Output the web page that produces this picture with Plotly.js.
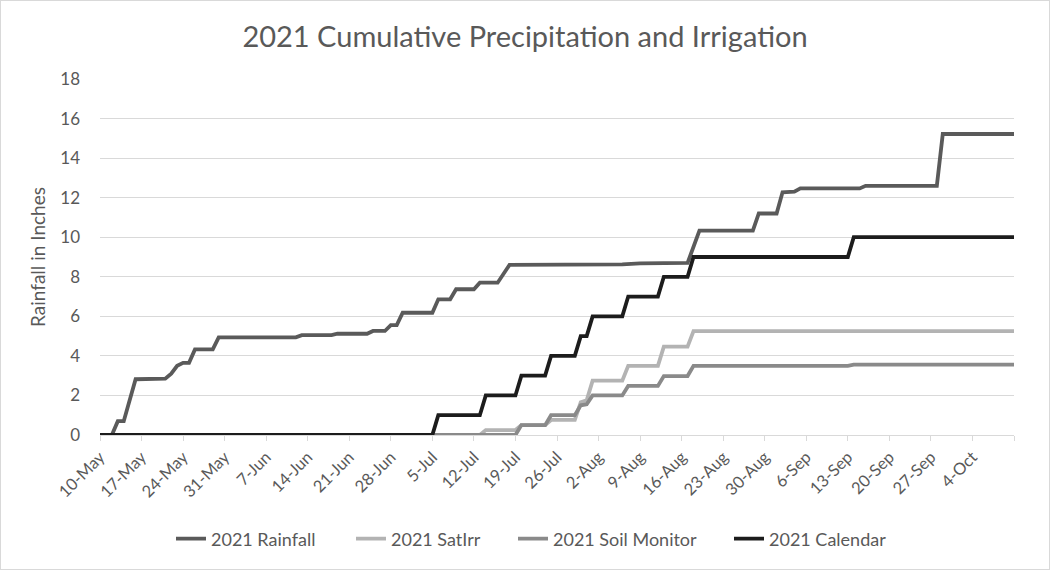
<!DOCTYPE html>
<html>
<head>
<meta charset="utf-8">
<script src="https://cdn.plot.ly/plotly-3.0.1.min.js"></script>
<style>
  html, body { margin: 0; padding: 0; background: #fff; }
  #wrap { position: relative; width: 1050px; height: 570px; }
  #chart { width: 1050px; height: 570px; }
  #frame { position: absolute; left: 0; top: 0; width: 1048px; height: 568px; border: 1px solid #d9d9d9; pointer-events: none; }
</style>
</head>
<body>
<div id="wrap"><div id="chart"></div><div id="frame"></div></div>
<script>
// ---- Data ----
const rainDates = ['2021-05-10','2021-05-12','2021-05-13','2021-05-14','2021-05-16','2021-05-21','2021-05-22','2021-05-23','2021-05-24','2021-05-25','2021-05-26','2021-05-29','2021-05-30','2021-06-12','2021-06-13','2021-06-18','2021-06-19','2021-06-24','2021-06-25','2021-06-27','2021-06-28','2021-06-29','2021-06-30','2021-07-05','2021-07-06','2021-07-08','2021-07-09','2021-07-12','2021-07-13','2021-07-16','2021-07-18','2021-08-04','2021-08-06','2021-08-09','2021-08-17','2021-08-19','2021-08-28','2021-08-29','2021-09-01','2021-09-02','2021-09-04','2021-09-05','2021-09-15','2021-09-16','2021-09-28','2021-09-29','2021-10-11'];
const rainValues = [0,0,0.7,0.7,2.82,2.85,3.1,3.5,3.65,3.65,4.33,4.33,4.94,4.94,5.05,5.05,5.12,5.12,5.26,5.26,5.56,5.56,6.18,6.18,6.86,6.86,7.37,7.37,7.7,7.7,8.6,8.6,8.63,8.68,8.7,10.33,10.33,11.2,11.2,12.27,12.3,12.47,12.47,12.6,12.6,15.22,15.22];

const satDates = ['2021-07-05','2021-07-13','2021-07-14','2021-07-19','2021-07-20','2021-07-24','2021-07-25','2021-07-29','2021-07-30','2021-07-31','2021-08-01','2021-08-06','2021-08-07','2021-08-12','2021-08-13','2021-08-17','2021-08-18','2021-10-11'];
const satValues = [0,0,0.25,0.25,0.5,0.5,0.76,0.76,1.65,1.75,2.75,2.75,3.5,3.5,4.47,4.47,5.25,5.25];

const soilDates = ['2021-07-05','2021-07-19','2021-07-20','2021-07-24','2021-07-25','2021-07-29','2021-07-30','2021-07-31','2021-08-01','2021-08-06','2021-08-07','2021-08-12','2021-08-13','2021-08-17','2021-08-18','2021-09-13','2021-09-14','2021-10-11'];
const soilValues = [0,0,0.5,0.5,1.0,1.0,1.5,1.55,2.0,2.0,2.48,2.48,2.98,2.98,3.5,3.5,3.56,3.56];

const calDates = ['2021-05-10','2021-07-05','2021-07-06','2021-07-13','2021-07-14','2021-07-19','2021-07-20','2021-07-24','2021-07-25','2021-07-29','2021-07-30','2021-07-31','2021-08-01','2021-08-06','2021-08-07','2021-08-12','2021-08-13','2021-08-17','2021-08-18','2021-09-13','2021-09-14','2021-10-11'];
const calValues = [0,0,1,1,2,2,3,3,4,4,5,5,6,6,7,7,8,8,9,9,10,10];

const seriesNames = ['2021 Rainfall','2021 SatIrr','2021 Soil Monitor','2021 Calendar'];

const tickDates = ['2021-05-10','2021-05-17','2021-05-24','2021-05-31','2021-06-07','2021-06-14','2021-06-21','2021-06-28','2021-07-05','2021-07-12','2021-07-19','2021-07-26','2021-08-02','2021-08-09','2021-08-16','2021-08-23','2021-08-30','2021-09-06','2021-09-13','2021-09-20','2021-09-27','2021-10-04','2021-10-11'];
const tickLabels = ['10-May','17-May','24-May','31-May','7-Jun','14-Jun','21-Jun','28-Jun','5-Jul','12-Jul','19-Jul','26-Jul','2-Aug','9-Aug','16-Aug','23-Aug','30-Aug','6-Sep','13-Sep','20-Sep','27-Sep','4-Oct',''];

// ---- Chart ----
const FONT = 'Lato, "Open Sans", sans-serif';
const colors = ['#5a5a5a', '#b3b3b3', '#8a8a8a', '#1c1c1c'];
const xs = [rainDates, satDates, soilDates, calDates];
const ys = [rainValues, satValues, soilValues, calValues];
const legendIds = ['legend', 'legend2', 'legend3', 'legend4'];
const legendLeft = [171, 351, 513, 729]; // px, left edge of each legend box

const traces = seriesNames.map((name, i) => ({
  type: 'scatter',
  mode: 'lines',
  name: name,
  x: xs[i],
  y: ys[i],
  line: { color: colors[i], width: 3.8 },
  cliponaxis: false,
  legend: legendIds[i],
  hoverinfo: 'x+y+name'
}));

const layout = {
  width: 1050,
  height: 570,
  paper_bgcolor: '#ffffff',
  plot_bgcolor: '#ffffff',
  margin: { l: 100, r: 36, t: 79, b: 135, autoexpand: false },
  font: { family: FONT, color: '#595959' },
  title: {
    text: '2021 Cumulative Precipitation and Irrigation',
    font: { family: FONT, size: 29, color: '#595959' },
    x: 0.5, xref: 'container', xanchor: 'center',
    y: 1 - 37 / 570, yref: 'container', yanchor: 'middle'
  },
  xaxis: {
    type: 'date',
    range: ['2021-05-10', '2021-10-11'],
    tickmode: 'array',
    tickvals: tickDates,
    ticktext: tickLabels,
    tickangle: -45,
    tickfont: { family: FONT, size: 16.5, color: '#595959' },
    ticks: 'outside',
    ticklen: 5,
    tickcolor: '#d9d9d9',
    showline: true,
    linecolor: '#d9d9d9',
    linewidth: 1,
    showgrid: false,
    zeroline: false,
    fixedrange: true
  },
  yaxis: {
    range: [0, 18],
    tickmode: 'linear',
    tick0: 0,
    dtick: 2,
    tickfont: { family: FONT, size: 17, color: '#595959' },
    showgrid: true,
    gridcolor: '#d9d9d9',
    gridwidth: 1,
    zeroline: false,
    showline: false,
    ticks: '',
    ticklabelstandoff: 19,
    title: { text: 'Rainfall in Inches', font: { family: FONT, size: 19, color: '#595959' }, standoff: 9 },
    fixedrange: true
  },
  showlegend: true
};

legendIds.forEach((id, i) => {
  layout[id] = {
    orientation: 'h',
    x: legendLeft[i] / 1050, xref: 'container', xanchor: 'left',
    y: 1 - 539 / 570, yref: 'container', yanchor: 'middle',
    font: { family: FONT, size: 18, color: '#595959' },
    bgcolor: 'rgba(0,0,0,0)',
    itemwidth: 30
  };
});

Plotly.newPlot('chart', traces, layout, { staticPlot: true, displayModeBar: false });
</script>
</body>
</html>
